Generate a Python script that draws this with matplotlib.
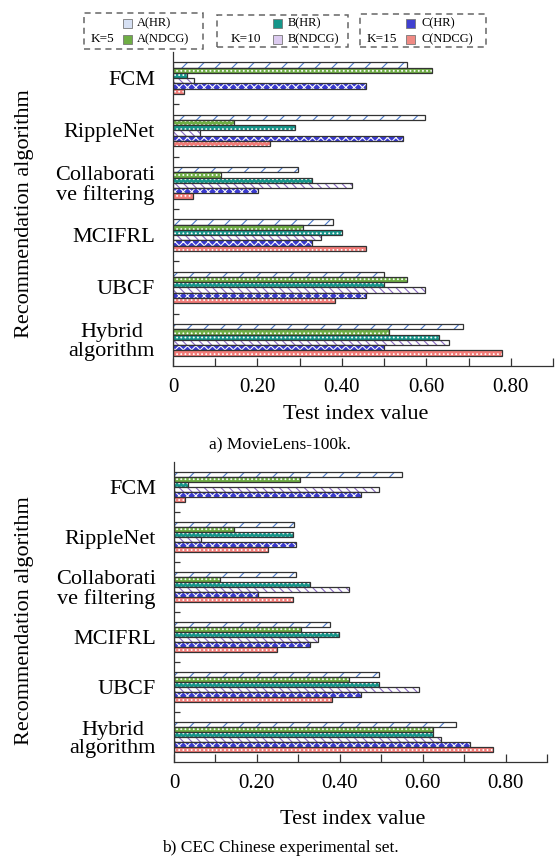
import numpy as np
import matplotlib
matplotlib.use("Agg")
import matplotlib.pyplot as plt
from matplotlib.patches import Rectangle

plt.rcParams['font.family'] = ['Liberation Serif', 'DejaVu Serif']
plt.rcParams['hatch.linewidth'] = 0.8

algorithms = ["FCM", "RippleNet", "Collaborati\nve filtering", "MCIFRL", "UBCF", "Hybrid\nalgorithm"]
series = ["A(HR)", "A(NDCG)", "B(HR)", "B(NDCG)", "C(HR)", "C(NDCG)"]

# a) MovieLens-100k
ml_a_hr   = [0.554, 0.596, 0.296, 0.378, 0.499, 0.687]
ml_a_ndcg = [0.614, 0.145, 0.113, 0.308, 0.555, 0.512]
ml_b_hr   = [0.032, 0.288, 0.329, 0.400, 0.499, 0.631]
ml_b_ndcg = [0.049, 0.064, 0.425, 0.350, 0.596, 0.653]
ml_c_hr   = [0.456, 0.545, 0.202, 0.329, 0.456, 0.499]
ml_c_ndcg = [0.027, 0.230, 0.047, 0.456, 0.384, 0.779]

# b) CEC Chinese experimental set
cec_a_hr   = [0.549, 0.289, 0.294, 0.376, 0.495, 0.680]
cec_a_ndcg = [0.305, 0.144, 0.112, 0.306, 0.423, 0.625]
cec_b_hr   = [0.033, 0.286, 0.327, 0.397, 0.495, 0.625]
cec_b_ndcg = [0.494, 0.064, 0.422, 0.347, 0.590, 0.645]
cec_c_hr   = [0.451, 0.294, 0.202, 0.327, 0.452, 0.714]
cec_c_ndcg = [0.027, 0.228, 0.288, 0.248, 0.382, 0.770]

# face, hatch colour, hatch
styles = [
    ("white",   "#4a78c8", "//"),
    ("#6fae45", "white",   "...."),
    ("#15968a", "white",   "...."),
    ("white",   "#8a68c0", "\\\\\\\\"),
    ("#3a3ad0", "white",   "xxxx"),
    ("#f27c78", "white",   "...."),
]
legend_face = ["#d6e0f3", "#6fae45", "#15968a", "#dccbf0", "#4040d0", "#f08a84"]

W, H = 557, 860
fig = plt.figure(figsize=(W / 100, H / 100), dpi=100)


def fx(x):
    return x / W


def fy(y):
    return 1 - y / H


def draw_panel(rect, data, ylab_y, xlab_y, caption, cap_y):
    ax = fig.add_axes(rect)
    y = np.arange(len(algorithms))
    h = 0.1
    for j, vals in enumerate(data):
        face, hc, hatch = styles[j]
        pos = y + (j - 2.5) * h
        ax.barh(pos, vals, height=h, color=face, edgecolor=hc, hatch=hatch, linewidth=0)
        ax.barh(pos, vals, height=h, facecolor="none", edgecolor="#333333", linewidth=0.9)
    ax.set_xlim(0, 0.9)
    ax.set_ylim(len(algorithms) - 0.5, -0.5)
    ax.set_xticks(np.arange(0, 0.81, 0.2))
    ax.set_xticklabels(["0", "0.20", "0.40", "0.60", "0.80"])
    ax.set_xticks(np.arange(0.1, 0.91, 0.2), minor=True)
    ax.set_yticks(y)
    ax.set_yticklabels(algorithms, fontsize=16, linespacing=1.0, multialignment="center")
    ax.set_yticks(np.arange(0.5, len(algorithms) - 0.5, 1), minor=True)
    ax.tick_params(axis="x", which="both", direction="in", length=6, width=0.9,
                   color="#333333", labelsize=15, pad=9)
    ax.tick_params(axis="y", which="major", length=0, pad=13)
    ax.tick_params(axis="y", which="minor", direction="in", length=4, width=0.9, color="#333333")
    for s in ["top", "right"]:
        ax.spines[s].set_visible(False)
    for s in ["left", "bottom"]:
        ax.spines[s].set_color("#333333")
        ax.spines[s].set_linewidth(0.9)
    fig.text(fx(25), fy(ylab_y), "Recommendation algorithm", rotation=90,
             ha="center", va="center", fontsize=16)
    fig.text(rect[0] + rect[2] * 0.48, fy(xlab_y), "Test index value",
             ha="center", va="center", fontsize=16)
    fig.text(fx(280), fy(cap_y), caption, ha="center", va="center", fontsize=12.5)
    return ax


ml = [ml_a_hr, ml_a_ndcg, ml_b_hr, ml_b_ndcg, ml_c_hr, ml_c_ndcg]
cec = [cec_a_hr, cec_a_ndcg, cec_b_hr, cec_b_ndcg, cec_c_hr, cec_c_ndcg]

draw_panel([fx(173), fy(366), 380 / W, 314 / H], ml, 214, 414, "a) MovieLens-100k.", 444)
draw_panel([fx(174), fy(762), 373 / W, 300 / H], cec, 621, 819, "b) CEC Chinese experimental set.", 848)

# legend: three dashed groups
groups = [
    ("K=5", (84, 13, 203, 49), 114, 127, 137, [0, 1]),
    ("K=10", (217, 15, 348, 47), 261, 277, 288, [2, 3]),
    ("K=15", (360, 14, 486, 47), 397, 410, 422, [4, 5]),
]
rows = [23, 39]
for klab, (x0, y0, x1, y1), kx, ix, tx, idx in groups:
    fig.patches.append(Rectangle((fx(x0), fy(y1)), (x1 - x0) / W, (y1 - y0) / H,
                                 transform=fig.transFigure, fill=False,
                                 edgecolor="#666666", linewidth=1.1, linestyle=(0, (4, 3))))
    fig.text(fx(kx), fy(39), klab, ha="right", va="center", fontsize=9.5)
    for r, j in zip(rows, idx):
        s = 9
        fig.patches.append(Rectangle((fx(ix - s / 2), fy(r + s / 2)), s / W, s / H,
                                     transform=fig.transFigure, facecolor=legend_face[j],
                                     edgecolor="#777777", linewidth=0.6))
        fig.text(fx(tx), fy(r), series[j], ha="left", va="center", fontsize=9)

fig.savefig("out.png", dpi=100)
